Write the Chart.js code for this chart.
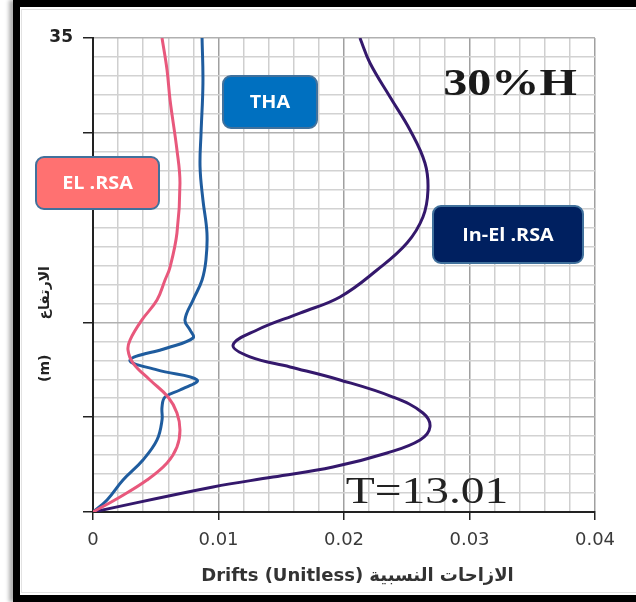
<!DOCTYPE html>
<html>
<head>
<meta charset="utf-8">
<title>Drifts 30%H</title>
<script src="https://cdn.jsdelivr.net/npm/chart.js@4"></script>
<style>
  body { margin: 0; background: #fff; }
  #frame {
    position: absolute; left: 13px; top: 0; width: 640px; height: 602px;
    box-sizing: border-box; border: 7px solid #000; border-right: none;
    box-shadow: -4px 0 4px #b0b0b0;
  }
  #inner { position: absolute; left: 21px; top: 9px; width: 620px; height: 582px; border: 1px solid #e2e2e2; }
  #wrap { position: absolute; left: 0; top: 0; width: 636px; height: 602px; }
</style>
</head>
<body>
<div id="frame"></div>
<div id="inner"></div>
<div id="wrap"><canvas id="driftChart"></canvas></div>
<script>
// storey height (m) vs drift
const heightEl = [35, 32.64, 30.42, 26.73, 24.29, 20.6, 18.09, 17.13, 15.65, 14.18, 12.7, 11.96, 11.0, 9.75, 8.49, 7.31, 6.05, 4.8, 3.62, 2.36, 1.11, 0];
const driftEl = [0.0055, 0.0059, 0.00614, 0.00669, 0.00693, 0.00669, 0.00614, 0.00574, 0.0051, 0.0039, 0.00295, 0.00279, 0.00319, 0.00454, 0.00598, 0.00669, 0.00693, 0.00669, 0.0059, 0.0043, 0.00215, 0];

const heightTha = [35, 31.68, 27.98, 25.47, 23.04, 20.6, 18.61, 17.13, 15.65, 14.18, 13.44, 12.85, 12.11, 11.22, 10.49, 9.75, 9.01, 8.49, 7.75, 6.79, 5.32, 3.84, 2.36, 0.89, 0];
const driftTha = [0.00869, 0.00876, 0.00861, 0.00853, 0.00876, 0.00908, 0.009, 0.00869, 0.00797, 0.00733, 0.00773, 0.00797, 0.0059, 0.00295, 0.0051, 0.00829, 0.00693, 0.00574, 0.0055, 0.0055, 0.0051, 0.00398, 0.00239, 0.00112, 0];

const heightInEl = [35, 33.15, 30.64, 28.21, 25.77, 23.78, 21.78, 19.86, 17.87, 15.88, 14.69, 13.44, 12.33, 11.45, 10.71, 9.75, 8.49, 7.31, 6.28, 5.32, 4.36, 3.32, 2.58, 1.85, 0];
const driftInEl = [0.02127, 0.02207, 0.02367, 0.02526, 0.02645, 0.02669, 0.02629, 0.02502, 0.02263, 0.01968, 0.01649, 0.01307, 0.01116, 0.01251, 0.0157, 0.01968, 0.0239, 0.02629, 0.02685, 0.02606, 0.02343, 0.01912, 0.01434, 0.00956, 0];

const xTickLabels = ['0', '0.01', '0.02', '0.03', '0.04'];
const yTickLabels = { 35: '35' };
const yTickMarks = [0, 7, 14, 28, 35];

const toPoints = (xs, ys) => xs.map((x, i) => ({ x: x, y: ys[i] }));
const isMajorX = v => Math.abs(v / 0.01 - Math.round(v / 0.01)) < 1e-6;
const isMarkY = v => yTickMarks.some(m => Math.abs(m - v) < 1e-6);

// text boxes and notes drawn on top of the plot
const notes = {
  id: 'notes',
  afterDraw(chart) {
    const ctx = chart.ctx;
    const box = (x, y, w, h, fill, text) => {
      const r = 8;
      ctx.save();
      ctx.beginPath();
      ctx.moveTo(x + r, y);
      ctx.arcTo(x + w, y, x + w, y + h, r);
      ctx.arcTo(x + w, y + h, x, y + h, r);
      ctx.arcTo(x, y + h, x, y, r);
      ctx.arcTo(x, y, x + w, y, r);
      ctx.closePath();
      ctx.fillStyle = fill;
      ctx.fill();
      ctx.lineWidth = 2;
      ctx.strokeStyle = '#41719c';
      ctx.stroke();
      ctx.fillStyle = '#fff';
      ctx.font = 'bold 18px "Open Sans"';
      ctx.textAlign = 'center';
      ctx.textBaseline = 'middle';
      ctx.translate(x + w / 2, y + h / 2 + 1);
      ctx.scale(1.1, 1);
      ctx.fillText(text, 0, 0);
      ctx.restore();
    };
    box(223, 76, 94, 52, '#0070c0', 'THA');
    box(36, 157, 123, 52, '#ff7171', 'EL .RSA');
    box(433, 206, 150, 57, '#002060', 'In-El .RSA');

    ctx.save();
    ctx.fillStyle = '#1a1a1a';
    ctx.textAlign = 'center';
    ctx.textBaseline = 'alphabetic';
    ctx.font = 'bold 37px "Liberation Serif"';
    ctx.translate(510, 95);
    ctx.scale(1.3, 1);
    ctx.fillText('30%H', 0, 0);
    ctx.restore();

    ctx.save();
    ctx.fillStyle = '#222';
    ctx.textAlign = 'center';
    ctx.font = '38px "Liberation Serif"';
    ctx.translate(427, 503);
    ctx.scale(1.25, 1);
    ctx.fillText('T=13.01', 0, 0);
    ctx.restore();
  }
};

const ctx = document.getElementById('driftChart').getContext('2d');
new Chart(ctx, {
  type: 'scatter',
  data: {
    datasets: [
      { label: 'EL .RSA', data: toPoints(driftEl, heightEl), borderColor: '#e8587c' },
      { label: 'THA', data: toPoints(driftTha, heightTha), borderColor: '#1f5c9e' },
      { label: 'In-El .RSA', data: toPoints(driftInEl, heightInEl), borderColor: '#34186c' }
    ]
  },
  options: {
    responsive: true,
    maintainAspectRatio: false,
    animation: false,
    datasets: {
      scatter: { showLine: true, tension: 0.4, pointRadius: 0, borderWidth: 3, fill: false }
    },
    layout: { padding: { left: 31, top: 38, right: 41, bottom: 10 } },
    plugins: { legend: { display: false }, tooltip: { enabled: false } },
    scales: {
      x: {
        type: 'linear', min: 0, max: 0.04,
        afterFit: s => { s.height = 80; },
        ticks: {
          stepSize: 0.002, autoSkip: false, maxRotation: 0, padding: 10,
          color: '#3a3a3a', font: { family: 'DejaVu Sans', size: 18 },
          callback: v => isMajorX(v) ? xTickLabels[Math.round(v / 0.01)] : ''
        },
        grid: {
          color: c => isMajorX(c.tick.value) ? '#a0a0a0' : '#cfcfcf',
          lineWidth: 1.5, tickLength: 8,
          tickColor: c => isMajorX(c.tick.value) ? '#222' : 'rgba(0,0,0,0)'
        },
        border: { color: '#222', width: 2 },
        title: {
          display: true, text: '\u2003\u2002Drifts (Unitless) الازاحات النسبية',
          color: '#333', font: { family: 'DejaVu Sans', size: 18, weight: 'bold' },
          padding: { top: 0, bottom: 5 }
        }
      },
      y: {
        type: 'linear', min: 0, max: 35,
        afterFit: s => { s.width = 62; },
        ticks: {
          stepSize: 1.4, autoSkip: false, padding: 10,
          color: '#222', font: { family: 'DejaVu Sans', size: 17, weight: 'bold' },
          callback: v => yTickLabels[Math.round(v * 100) / 100] || ''
        },
        grid: {
          color: c => isMarkY(c.tick.value) ? '#b0b0b0' : '#d2d2d2',
          lineWidth: 1.5, tickLength: 10,
          tickColor: c => isMarkY(c.tick.value) ? '#222' : 'rgba(0,0,0,0)'
        },
        border: { color: '#222', width: 2 },
        title: {
          display: true,
          text: '(m)\u2003\u2003\u2002الارتفاع\u2003\u2003\u2003\u2003\u2003\u2003\u2003',
          color: '#222', font: { family: 'DejaVu Sans', size: 14, weight: 'bold' },
          padding: { top: 6, bottom: 0 }
        }
      }
    }
  },
  plugins: [notes]
});
</script>
</body>
</html>
